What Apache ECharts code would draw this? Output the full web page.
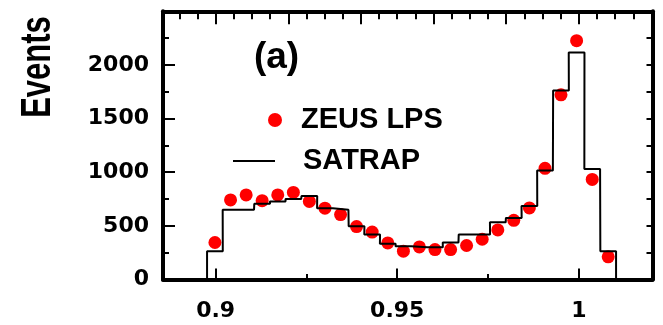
<!DOCTYPE html>
<html>
<head>
<meta charset="utf-8">
<script src="https://cdn.jsdelivr.net/npm/echarts@6/dist/echarts.min.js"></script>
<style>
html,body{margin:0;padding:0;background:#fff;}
#chart{width:663px;height:325px;}
</style>
</head>
<body>
<div id="chart"></div>
<script>
// Bin centres (x) of the histogram / data points
const binCenters = [0.8998, 0.9041, 0.9084, 0.9128, 0.9171, 0.9214, 0.9258, 0.9301, 0.9344, 0.9388,
  0.9431, 0.9474, 0.9517, 0.9561, 0.9604, 0.9647, 0.9691, 0.9734, 0.9777, 0.9821,
  0.9864, 0.9907, 0.9951, 0.9994, 1.0037, 1.0081];
const binHalfWidth = 0.002166;
// ZEUS LPS data points
const zeusValues = [345, 742, 788, 735, 788, 812, 728, 665, 605, 493,
  442, 341, 264, 304, 279, 279, 317, 375, 462, 552,
  667, 1036, 1721, 2226, 933, 211];
// SATRAP histogram
const satrapValues = [263, 651, 651, 705, 728, 750, 778, 665, 651, 496,
  419, 333, 310, 300, 300, 345, 419, 419, 533, 574,
  685, 1015, 1761, 2115, 1030, 263];
// Axis ticks / labels
const xLabelValues = [0.9, 0.95, 1];
const xLabelTexts = ['0.9', '0.95', '1'];
const xMinorTicks = [0.925, 0.975];
const xTopMajor = [0.9, 0.92, 0.94, 0.96, 0.98, 1.0];
const xTopMinor = [0.89, 0.895, 0.905, 0.91, 0.915, 0.925, 0.93, 0.935, 0.945, 0.95, 0.955, 0.965, 0.97, 0.975, 0.985, 0.99, 0.995, 1.005, 1.01, 1.015];
const yLabelValues = [0, 500, 1000, 1500, 2000];
const yLabelTexts = ['0', '500', '1000', '1500', '2000'];

const X_MIN = 0.8855, X_MAX = 1.0203;
const Y_MIN = 0, Y_MAX = 2500;

const zeusData = binCenters.map((x, i) => [x, zeusValues[i]]);
const histData = [];
binCenters.forEach((c, i) => {
  const l = c - binHalfWidth, r = c + binHalfWidth;
  if (i === 0) histData.push([l, 0]);
  histData.push([l, satrapValues[i]]);
  histData.push([r, satrapValues[i]]);
  if (i === binCenters.length - 1) histData.push([r, 0]);
});

const black = '#000';
const clear = 'rgba(0,0,0,0)';
const frameLine = {show: true, onZero: false, lineStyle: {color: black, width: 4}};
const hiddenLine = {show: true, onZero: false, lineStyle: {color: clear, width: 1}};

const chart = echarts.init(document.getElementById('chart'));
chart.setOption({
  animation: false,
  grid: {left: 163, right: 10.5, top: 11.3, bottom: 45.5},
  xAxis: [
    {
      type: 'value', min: X_MIN, max: X_MAX, position: 'bottom', splitLine: {show: false},
      axisLine: frameLine,
      axisTick: {show: true, inside: true, length: 11, lineStyle: {color: black, width: 2}, customValues: xLabelValues},
      axisLabel: {
        customValues: xLabelValues, margin: 21,
        color: black, fontFamily: 'DejaVu Sans', fontWeight: 'bold', fontSize: 22,
        formatter: v => {
          const k = xLabelValues.findIndex(t => Math.abs(t - v) < 1e-6);
          return k >= 0 ? xLabelTexts[k] : '';
        }
      }
    },
    {
      type: 'value', min: X_MIN, max: X_MAX, position: 'top', splitLine: {show: false},
      axisLine: frameLine,
      axisTick: {show: true, inside: true, length: 13, lineStyle: {color: black, width: 2}, customValues: xTopMajor},
      axisLabel: {show: false}
    },
    {
      type: 'value', min: X_MIN, max: X_MAX, position: 'bottom', splitLine: {show: false},
      axisLine: hiddenLine,
      axisTick: {show: true, inside: true, length: 5.5, lineStyle: {color: black, width: 2}, customValues: xMinorTicks},
      axisLabel: {show: false}
    },
    {
      type: 'value', min: X_MIN, max: X_MAX, position: 'top', splitLine: {show: false},
      axisLine: hiddenLine,
      axisTick: {show: true, inside: true, length: 8, lineStyle: {color: black, width: 2}, customValues: xTopMinor},
      axisLabel: {show: false}
    }
  ],
  yAxis: [
    {
      type: 'value', position: 'left', min: Y_MIN, max: Y_MAX, interval: 500, splitLine: {show: false},
      axisLine: frameLine,
      axisTick: {show: true, inside: true, length: 12, lineStyle: {color: black, width: 2}},
      axisLabel: {
        margin: 14, color: black, fontFamily: 'DejaVu Sans', fontWeight: 'bold', fontSize: 22,
        formatter: v => {
          const k = yLabelValues.indexOf(v);
          return k >= 0 ? yLabelTexts[k] : '';
        }
      }
    },
    {
      type: 'value', position: 'right', min: Y_MIN, max: Y_MAX, interval: 250, splitLine: {show: false},
      axisLine: frameLine,
      axisTick: {show: true, inside: true, length: 6, lineStyle: {color: black, width: 2}},
      axisLabel: {show: false}
    },
    {
      type: 'value', position: 'left', min: Y_MIN, max: Y_MAX, interval: 250, splitLine: {show: false},
      axisLine: hiddenLine,
      axisTick: {show: true, inside: true, length: 6, lineStyle: {color: black, width: 2}},
      axisLabel: {show: false}
    }
  ],
  legend: [
    {
      data: ['ZEUS LPS'], left: 268, top: 105, orient: 'vertical', padding: 0,
      itemWidth: 14, itemHeight: 14, icon: 'circle',
      textStyle: {color: black, fontFamily: 'Liberation Sans', fontWeight: 'bold', fontSize: 29, lineHeight: 30, padding: [0, 0, 0, 14]}
    },
    {
      data: ['SATRAP'], left: 233, top: 146, orient: 'vertical', padding: 0,
      itemWidth: 42, itemHeight: 2, icon: 'rect',
      textStyle: {color: black, fontFamily: 'Liberation Sans', fontWeight: 'bold', fontSize: 29, lineHeight: 30, padding: [0, 0, 0, 23]}
    }
  ],
  graphic: [
    {
      type: 'text', x: 38, y: 67, rotation: Math.PI / 2, scaleY: 1.35,
      style: {text: 'Events', fill: black, font: 'bold 31px "Liberation Sans"', align: 'center', verticalAlign: 'middle'}
    },
    {
      type: 'text', x: 276.5, y: 57.5,
      style: {text: '(a)', fill: black, font: 'bold 37px "Liberation Sans"', align: 'center', verticalAlign: 'middle'}
    }
  ],
  series: [
    {
      name: 'SATRAP', type: 'line', xAxisIndex: 0, yAxisIndex: 0,
      data: histData, symbol: 'none', showSymbol: false,
      lineStyle: {color: black, width: 2}, itemStyle: {color: black}
    },
    {
      name: 'ZEUS LPS', type: 'scatter', xAxisIndex: 0, yAxisIndex: 0,
      data: zeusData, symbol: 'circle', symbolSize: 13,
      itemStyle: {color: '#ff0000', opacity: 1}
    }
  ]
});
</script>
</body>
</html>
